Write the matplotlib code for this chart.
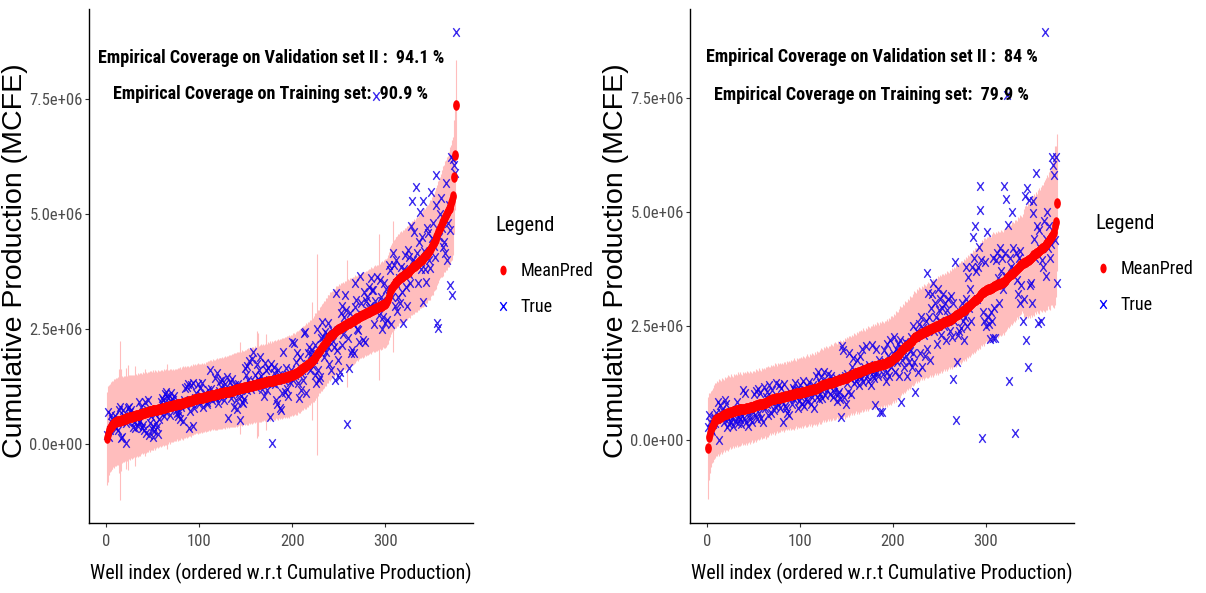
import os
import numpy as np
import matplotlib
matplotlib.use("Agg")
import matplotlib.pyplot as plt
from matplotlib.path import Path
from matplotlib.lines import Line2D
from matplotlib import font_manager as fm

UNIT = 1e4  # all series below are in units of 10,000 MCFE

# ---------------- left panel ----------------
L_MEAN = [
    12, 22, 30, 35, 38, 40, 42, 44, 45, 47,
    48, 49, 50, 50, 51, 52, 53, 53, 54, 55,
    55, 56, 56, 57, 58, 58, 59, 59, 60, 61,
    61, 62, 62, 63, 64, 64, 65, 66, 66, 67,
    68, 68, 69, 69, 70, 71, 71, 72, 72, 73,
    73, 74, 74, 75, 75, 76, 76, 77, 77, 78,
    78, 79, 79, 80, 80, 81, 81, 82, 82, 83,
    83, 84, 84, 85, 85, 86, 86, 87, 87, 88,
    88, 89, 89, 90, 91, 91, 92, 93, 93, 94,
    94, 95, 95, 96, 97, 97, 98, 98, 99, 99,
    100, 100, 101, 101, 102, 102, 103, 103, 104, 104,
    105, 105, 106, 106, 107, 107, 107, 108, 108, 109,
    109, 110, 110, 110, 111, 111, 112, 112, 113, 113,
    114, 114, 115, 115, 116, 116, 117, 118, 118, 119,
    119, 120, 120, 121, 121, 122, 122, 123, 123, 124,
    124, 125, 125, 126, 126, 127, 127, 128, 128, 129,
    129, 130, 130, 131, 131, 132, 132, 133, 133, 134,
    134, 135, 135, 136, 136, 137, 137, 138, 138, 139,
    139, 140, 140, 141, 141, 142, 142, 143, 143, 144,
    144, 145, 145, 146, 146, 147, 147, 148, 149, 150,
    151, 152, 153, 154, 155, 157, 158, 159, 161, 162,
    164, 165, 167, 168, 170, 171, 173, 175, 177, 179,
    181, 183, 185, 187, 190, 192, 195, 198, 201, 204,
    207, 210, 213, 216, 219, 222, 225, 228, 230, 232,
    234, 236, 238, 240, 242, 244, 246, 248, 250, 251,
    252, 253, 254, 255, 256, 257, 258, 259, 261, 262,
    263, 264, 266, 267, 268, 269, 270, 272, 273, 274,
    275, 276, 278, 279, 280, 281, 282, 283, 284, 285,
    286, 287, 288, 289, 290, 291, 292, 293, 294, 295,
    296, 297, 298, 299, 300, 301, 302, 303, 304, 305,
    307, 310, 315, 322, 330, 336, 340, 343, 346, 349,
    351, 353, 355, 357, 359, 361, 362, 364, 365, 367,
    369, 370, 372, 373, 375, 377, 378, 380, 382, 384,
    386, 388, 390, 392, 393, 395, 397, 399, 401, 403,
    405, 407, 409, 411, 413, 416, 419, 422, 426, 430,
    434, 438, 442, 446, 450, 455, 460, 465, 470, 475,
    480, 485, 490, 494, 498, 502, 506, 510, 514, 518,
    523, 530, 540, 581, 628, 737,
]
L_TRUE = [
    20, 70, 16, 30, 63, 45, 55, 52, 40, 60,
    35, 50, 30, 74, 81, 12, 16, 74, 60, 55,
    45, 2, 50, 78, 81, 70, 74, 59, 38, 48,
    34, 62, 55, 40, 48, 92, 50, 81, 35, 42,
    30, 92, 25, 74, 96, 20, 46, 60, 33, 15,
    40, 28, 65, 45, 38, 22, 55, 70, 91, 100,
    95, 60, 108, 113, 70, 105, 100, 90, 62, 110,
    98, 95, 104, 90, 75, 67, 60, 70, 88, 55,
    80, 90, 50, 95, 122, 85, 125, 130, 35, 72,
    128, 90, 40, 133, 78, 99, 110, 95, 130, 88,
    122, 105, 133, 80, 95, 110, 100, 92, 88, 118,
    100, 161, 120, 95, 110, 105, 143, 100, 154, 90,
    115, 138, 102, 125, 140, 108, 96, 130, 118, 145,
    56, 110, 135, 100, 142, 125, 80, 115, 128, 96,
    76, 130, 110, 52, 104, 92, 89, 98, 165, 150,
    170, 118, 140, 180, 130, 120, 185, 200, 135, 150,
    125, 175, 142, 160, 190, 130, 148, 120, 138, 104,
    176, 160, 117, 165, 140, 59, 175, 2, 132, 155,
    168, 130, 96, 88, 161, 150, 78, 74, 110, 201,
    140, 112, 165, 120, 150, 105, 146, 135, 160, 222,
    139, 219, 150, 179, 197, 132, 100, 190, 117, 155,
    160, 139, 241, 244, 110, 175, 197, 211, 160, 195,
    205, 170, 185, 150, 215, 132, 250, 161, 140, 146,
    230, 265, 233, 190, 244, 200, 240, 210, 262, 175,
    233, 161, 248, 225, 211, 139, 328, 204, 183, 146,
    157, 284, 215, 300, 240, 277, 324, 291, 43, 230,
    165, 284, 197, 204, 262, 197, 298, 350, 313, 250,
    248, 222, 365, 306, 280, 226, 330, 222, 310, 320,
    290, 295, 342, 300, 360, 335, 335, 260, 310, 757,
    364, 298, 280, 357, 320, 250, 310, 277, 349, 262,
    338, 270, 324, 389, 378, 260, 320, 415, 389, 300,
    350, 400, 290, 320, 360, 306, 385, 330, 262, 380,
    410, 342, 300, 422, 370, 407, 350, 474, 529, 400,
    462, 395, 559, 415, 349, 440, 505, 380, 450, 309,
    529, 420, 380, 353, 470, 458, 400, 382, 548, 447,
    480, 430, 407, 585, 520, 262, 252, 450, 500, 534,
    470, 429, 440, 415, 567, 400, 480, 520, 346, 465,
    625, 324, 620, 607, 590, 896,
]
L_HALF = [
    101, 104, 98, 96, 97, 95, 96, 94, 97, 95,
    96, 94, 95, 112, 172, 110, 95, 93, 94, 92,
    93, 110, 92, 114, 91, 93, 90, 92, 91, 89,
    108, 90, 88, 91, 89, 87, 90, 88, 86, 89,
    87, 95, 88, 86, 87, 85, 88, 86, 84, 87,
    85, 83, 86, 84, 82, 85, 83, 81, 84, 82,
    80, 83, 81, 79, 82, 92, 80, 78, 81, 79,
    78, 80, 77, 79, 78, 76, 80, 78, 77, 79,
    76, 78, 80, 77, 79, 76, 78, 77, 75, 76,
    78, 75, 74, 77, 75, 76, 74, 75, 77, 74,
    75, 74, 76, 74, 75, 73, 76, 74, 75, 76,
    75, 77, 76, 74, 77, 75, 76, 77, 78, 76,
    77, 76, 78, 77, 79, 76, 78, 79, 77, 79,
    78, 80, 79, 78, 80, 79, 81, 78, 80, 79,
    81, 80, 79, 100, 80, 82, 81, 79, 82, 80,
    82, 81, 83, 80, 82, 81, 83, 82, 80, 83,
    82, 116, 112, 83, 84, 82, 85, 83, 84, 82,
    84, 105, 83, 85, 84, 86, 83, 85, 84, 86,
    85, 87, 84, 86, 88, 85, 87, 86, 88, 87,
    86, 88, 87, 89, 86, 88, 90, 87, 89, 88,
    90, 89, 87, 90, 91, 88, 90, 92, 89, 91,
    90, 92, 89, 91, 93, 90, 92, 91, 93, 90,
    128, 92, 93, 91, 94, 92, 218, 93, 91, 94,
    92, 95, 93, 94, 92, 95, 93, 96, 94, 93,
    96, 94, 95, 93, 96, 94, 97, 95, 93, 96,
    94, 97, 95, 93, 96, 94, 97, 95, 138, 96,
    94, 97, 95, 93, 96, 94, 92, 95, 93, 91,
    94, 92, 90, 93, 91, 94, 92, 90, 93, 91,
    92, 90, 93, 91, 94, 92, 90, 93, 95, 92,
    94, 92, 158, 93, 95, 94, 96, 93, 95, 97,
    96, 94, 97, 95, 98, 96, 97, 142, 98, 96,
    99, 97, 98, 100, 97, 99, 101, 98, 100, 99,
    101, 99, 102, 100, 98, 101, 103, 100, 102, 101,
    103, 100, 102, 104, 101, 103, 102, 104, 103, 105,
    104, 106, 103, 105, 107, 104, 106, 108, 105, 107,
    109, 106, 108, 110, 107, 109, 111, 108, 110, 112,
    116, 119, 117, 121, 119, 123, 121, 125, 123, 127,
    126, 130, 128, 124, 120, 98,
]

# ---------------- right panel ----------------
R_MEAN = [
    -18, 7, 16, 24, 29, 33, 37, 40, 43, 45,
    47, 48, 49, 50, 51, 53, 54, 55, 56, 57,
    58, 59, 59, 60, 61, 62, 62, 63, 64, 64,
    65, 65, 66, 66, 67, 67, 67, 68, 68, 69,
    69, 70, 70, 71, 71, 72, 72, 73, 73, 74,
    74, 75, 76, 76, 77, 78, 78, 79, 80, 80,
    81, 82, 82, 83, 84, 85, 86, 87, 88, 89,
    89, 90, 90, 91, 91, 92, 92, 93, 93, 94,
    94, 95, 95, 96, 96, 97, 97, 98, 98, 99,
    99, 100, 100, 101, 101, 102, 102, 103, 103, 104,
    104, 105, 105, 106, 106, 107, 107, 108, 108, 109,
    109, 110, 110, 111, 111, 112, 112, 113, 114, 116,
    117, 118, 119, 120, 121, 121, 122, 123, 123, 124,
    124, 125, 126, 126, 127, 128, 128, 129, 130, 130,
    131, 131, 132, 133, 133, 134, 135, 135, 136, 137,
    138, 139, 140, 141, 142, 143, 144, 145, 146, 147,
    147, 148, 149, 150, 150, 151, 152, 153, 153, 154,
    155, 156, 157, 158, 158, 159, 160, 161, 161, 162,
    162, 163, 163, 164, 164, 165, 165, 166, 166, 167,
    167, 168, 169, 170, 171, 172, 173, 174, 176, 177,
    179, 181, 183, 185, 187, 189, 191, 193, 195, 197,
    199, 201, 203, 205, 207, 209, 211, 213, 215, 217,
    219, 221, 223, 225, 226, 228, 229, 231, 232, 233,
    234, 235, 236, 237, 238, 239, 240, 241, 242, 243,
    244, 245, 246, 247, 248, 249, 250, 251, 252, 253,
    254, 255, 256, 257, 258, 259, 260, 261, 262, 263,
    264, 265, 266, 267, 268, 270, 271, 273, 274, 276,
    277, 279, 280, 282, 283, 285, 286, 288, 289, 291,
    292, 294, 296, 298, 300, 302, 304, 306, 308, 310,
    312, 314, 316, 318, 320, 322, 324, 325, 327, 328,
    329, 330, 331, 332, 333, 334, 335, 336, 337, 338,
    339, 340, 341, 342, 343, 344, 345, 346, 347, 349,
    351, 353, 355, 357, 359, 361, 363, 365, 367, 369,
    371, 373, 375, 377, 379, 381, 383, 384, 386, 387,
    388, 390, 391, 392, 394, 395, 397, 399, 401, 403,
    405, 406, 408, 410, 411, 413, 414, 416, 418, 420,
    422, 424, 426, 428, 430, 432, 435, 438, 441, 444,
    448, 452, 457, 470, 479, 520,
]
R_TRUE = [
    29, 55, 40, 25, 20, 35, 45, 50, 38, 60,
    45, 84, 0, 77, 60, 66, 50, 40, 88, 80,
    52, 29, 45, 35, 60, 40, 48, 30, 55, 42,
    65, 84, 38, 50, 45, 60, 35, 52, 110, 48,
    102, 40, 65, 30, 55, 45, 70, 40, 62, 75,
    100, 55, 108, 45, 112, 60, 104, 48, 75, 40,
    116, 70, 95, 105, 80, 55, 120, 85, 60, 110,
    90, 65, 75, 124, 88, 80, 120, 70, 90, 115,
    85, 40, 122, 75, 70, 60, 95, 55, 105, 100,
    80, 115, 110, 90, 125, 95, 110, 70, 85, 120,
    95, 80, 130, 75, 110, 90, 118, 85, 100, 128,
    105, 78, 95, 120, 70, 112, 140, 95, 150, 90,
    100, 125, 138, 92, 115, 150, 98, 130, 110, 145,
    120, 100, 140, 125, 95, 130, 105, 115, 135, 85,
    100, 105, 90, 51, 205, 197, 95, 140, 80, 125,
    145, 105, 190, 135, 100, 160, 180, 125, 140, 130,
    175, 150, 120, 185, 140, 135, 200, 128, 160, 145,
    205, 140, 130, 165, 155, 120, 208, 150, 140, 135,
    77, 200, 150, 140, 175, 62, 160, 62, 145, 197,
    170, 130, 210, 150, 185, 140, 220, 160, 175, 190,
    226, 150, 200, 170, 210, 140, 190, 220, 84, 175,
    200, 160, 215, 185, 140, 210, 170, 195, 225, 160,
    190, 250, 170, 106, 226, 240, 150, 255, 190, 270,
    160, 245, 230, 185, 260, 366, 200, 322, 270, 175,
    290, 320, 344, 240, 300, 270, 210, 330, 285, 260,
    310, 230, 290, 320, 250, 300, 220, 285, 310, 270,
    240, 315, 225, 133, 300, 260, 391, 44, 172, 230,
    240, 280, 245, 300, 260, 220, 270, 310, 380, 250,
    358, 290, 330, 260, 380, 446, 400, 469, 370, 310,
    380, 424, 557, 504, 395, 4, 280, 260, 390, 250,
    457, 270, 255, 221, 280, 260, 400, 223, 290, 223,
    395, 410, 355, 300, 420, 370, 400, 330, 557, 410,
    360, 528, 757, 471, 130, 400, 380, 500, 420, 375,
    15, 410, 350, 320, 400, 300, 415, 340, 390, 262,
    310, 534, 219, 552, 159, 526, 340, 344, 300, 523,
    497, 440, 400, 585, 470, 256, 460, 420, 262, 395,
    380, 480, 894, 360, 440, 500, 420, 470, 400, 430,
    621, 603, 581, 439, 621, 344,
]
R_HALF = [
    112, 95, 88, 84, 80, 82, 79, 81, 83, 80,
    82, 79, 84, 81, 78, 83, 80, 77, 82, 79,
    81, 78, 83, 80, 77, 82, 79, 76, 81, 78,
    80, 77, 82, 79, 76, 81, 78, 75, 80, 77,
    79, 76, 81, 78, 75, 80, 77, 74, 79, 76,
    78, 75, 80, 77, 74, 79, 76, 73, 78, 75,
    77, 74, 79, 76, 73, 78, 75, 72, 77, 74,
    76, 73, 78, 75, 72, 77, 74, 71, 76, 73,
    75, 72, 77, 74, 71, 76, 73, 75, 72, 77,
    74, 76, 73, 78, 75, 72, 77, 74, 76, 75,
    77, 74, 79, 76, 73, 78, 75, 80, 77, 74,
    79, 76, 81, 78, 75, 80, 77, 82, 79, 76,
    81, 78, 83, 80, 77, 82, 79, 84, 81, 78,
    83, 80, 85, 82, 79, 84, 81, 86, 83, 80,
    85, 82, 87, 84, 81, 86, 83, 88, 85, 82,
    87, 84, 89, 86, 83, 88, 85, 90, 87, 84,
    89, 86, 91, 88, 85, 90, 87, 92, 89, 86,
    91, 88, 93, 90, 87, 92, 89, 94, 91, 88,
    93, 90, 95, 92, 89, 94, 91, 96, 93, 90,
    95, 92, 97, 94, 91, 96, 93, 98, 95, 92,
    97, 94, 99, 96, 93, 98, 95, 100, 97, 94,
    99, 96, 101, 98, 95, 100, 97, 102, 99, 96,
    101, 98, 103, 100, 97, 102, 99, 104, 101, 98,
    103, 100, 105, 102, 99, 104, 101, 106, 103, 100,
    105, 102, 107, 104, 101, 106, 103, 108, 105, 102,
    107, 104, 109, 106, 103, 108, 105, 110, 107, 104,
    109, 106, 111, 108, 105, 110, 107, 112, 109, 106,
    111, 108, 113, 110, 107, 112, 109, 114, 111, 108,
    113, 110, 115, 112, 109, 114, 111, 116, 113, 110,
    115, 112, 117, 114, 111, 116, 113, 118, 115, 112,
    117, 114, 119, 116, 113, 118, 115, 120, 117, 114,
    116, 113, 118, 115, 112, 117, 114, 111, 116, 113,
    110, 115, 112, 109, 114, 111, 108, 113, 110, 107,
    112, 109, 106, 111, 108, 105, 110, 107, 104, 109,
    118, 122, 125, 120, 127, 123, 129, 125, 131, 127,
    130, 134, 128, 133, 129, 135, 138, 132, 136, 140,
    137, 141, 145, 139, 144, 148, 142, 150, 155, 147,
    152, 160, 168, 175, 165, 150,
]

# ---------------- text ----------------
X_TICKS = [0, 100, 200, 300]
Y_TICKS = [0.0, 2.5e6, 5.0e6, 7.5e6]
Y_TICK_LABELS = ["0.0e+00", "2.5e+06", "5.0e+06", "7.5e+06"]
LEGEND_TITLE = "Legend"
LEGEND_LABELS = ["MeanPred", "True"]
COVERAGE_LEFT = ["Empirical Coverage on Validation set II :  94.1 %",
                 "Empirical Coverage on Training set:  90.9 %"]
COVERAGE_RIGHT = ["Empirical Coverage on Validation set II :  84 %",
                  "Empirical Coverage on Training set:  79.9 %"]
X_LABEL = "Well index (ordered w.r.t Cumulative Production)"
Y_LABEL = "Cumulative Production (MCFE)"

# ---------------- fonts: pick a condensed face if one is installed ----------------
_files = {}
for _f in fm.fontManager.ttflist:
    _files.setdefault(os.path.basename(_f.fname), _f.fname)

_CANDIDATES = [
    ("NotoSans-ExtraCondensed.ttf", "NotoSans-ExtraCondensedBold.ttf", 0.70),
    ("LiberationSansNarrow-Regular.ttf", "LiberationSansNarrow-Bold.ttf", 0.82),
    ("NotoSans-Condensed.ttf", "NotoSans-CondensedBold.ttf", 0.80),
    ("RobotoCondensed-Regular.ttf", "RobotoCondensed-Bold.ttf", 0.86),
    ("DejaVuSansCondensed.ttf", "DejaVuSansCondensed-Bold.ttf", 0.97),
]
REG_FILE = BOLD_FILE = None
WF = 1.0
for _r, _b, _w in _CANDIDATES:
    if _r in _files and _b in _files:
        REG_FILE, BOLD_FILE, WF = _files[_r], _files[_b], _w
        break


def fprop(size, bold=False):
    if REG_FILE is not None:
        return fm.FontProperties(fname=BOLD_FILE if bold else REG_FILE, size=size)
    return fm.FontProperties(family=["Liberation Sans", "DejaVu Sans"],
                             weight="bold" if bold else "normal", size=size)


def fit(h_size, w_size):
    return min(h_size, w_size / WF)


S_TICK = fit(15.5, 10.3)
S_NOTE = fit(16.0, 11.2)
S_XLAB = fit(18.5, 12.4)
S_LTITLE = fit(18.0, 12.7)
S_LLAB = fit(15.8, 11.2)

# markers (the reference is horizontally squeezed, so marks are narrow)
_c = Path.unit_circle()
DOT = Path(_c.vertices * np.array([0.64, 1.0]), _c.codes)
XM = Path([(-0.75, -1.0), (0.75, 1.0), (-0.75, 1.0), (0.75, -1.0)],
          [Path.MOVETO, Path.LINETO, Path.MOVETO, Path.LINETO])

BAND = "#ffbdbd"
W, H = 1206, 593
fig = plt.figure(figsize=(W / 100, H / 100), dpi=100)


def px_axes(l, t, r, b):
    return fig.add_axes([l / W, 1 - b / H, (r - l) / W, (b - t) / H])


def panel(ax, mean, true, half, xlim, ylim, texts, text_y, leg_xy, ylab_x):
    n = min(len(mean), len(true), len(half))
    idx = np.arange(1, n + 1)
    m = np.asarray(mean[:n], float) * UNIT
    t = np.asarray(true[:n], float) * UNIT
    h = np.asarray(half[:n], float) * UNIT
    ax.vlines(idx, m - h, m + h, colors=BAND, linewidth=0.8, zorder=1)
    ax.plot(idx, t, ls="none", marker=XM, ms=6.2, mew=1.0,
            mec=(0.08, 0.0, 0.92, 0.85), mfc="none", zorder=2)
    ax.plot(idx, m, ls="none", marker=DOT, ms=7.6, mew=0,
            mfc="red", mec="red", zorder=3)

    ax.set_xlim(*xlim)
    ax.set_ylim(*ylim)
    ax.set_xticks(X_TICKS)
    ax.set_xticklabels([str(v) for v in X_TICKS])
    ax.set_yticks(Y_TICKS)
    ax.set_yticklabels(Y_TICK_LABELS)
    for s in ("top", "right"):
        ax.spines[s].set_visible(False)
    for s in ("left", "bottom"):
        ax.spines[s].set_linewidth(1.0)
        ax.spines[s].set_color("black")
    ax.tick_params(axis="both", length=3, width=0.8, color="#333333",
                   labelcolor="#4d4d4d")
    ax.tick_params(axis="x", pad=5.0)
    ax.tick_params(axis="y", pad=1.5)
    for lab in ax.get_xticklabels() + ax.get_yticklabels():
        lab.set_fontproperties(fprop(S_TICK))

    for txt, yv in zip(texts, text_y):
        ax.text(177, yv, txt, ha="center", va="center",
                fontproperties=fprop(S_NOTE, bold=True), color="black", zorder=4)

    ax.set_xlabel(X_LABEL, fontproperties=fprop(S_XLAB), color="black")
    ax.xaxis.set_label_coords(0.5, -0.099)
    ax.xaxis.label.set_va("center")
    ax.set_ylabel(Y_LABEL, fontsize=20.5, family=["Liberation Sans", "DejaVu Sans"],
                  color="black")
    ax.yaxis.set_label_coords(ylab_x, 0.51)
    ax.yaxis.label.set_va("center")

    handles = [
        Line2D([], [], ls="none", marker=DOT, ms=7.0, mew=0, mfc="red", mec="red"),
        Line2D([], [], ls="none", marker=XM, ms=6.2, mew=1.0, mec="blue", mfc="none"),
    ]
    leg = ax.legend(handles, LEGEND_LABELS, title=LEGEND_TITLE, loc="upper left",
                    bbox_to_anchor=(leg_xy[0] / W, 1 - leg_xy[1] / H),
                    bbox_transform=fig.transFigure, frameon=False,
                    borderpad=0, borderaxespad=0, handlelength=0.85,
                    handletextpad=0.55, labelspacing=1.0, alignment="left",
                    prop=fprop(S_LLAB), title_fontproperties=fprop(S_LTITLE))
    leg._legend_box.sep = 19.5
    return ax


ax1 = px_axes(89, 9, 473, 523)
panel(ax1, L_MEAN, L_TRUE, L_HALF, (-18.2, 394.2), (-1.717e6, 9.457e6),
      COVERAGE_LEFT, (8.40e6, 7.60e6), (495, 216), -0.192)

ax2 = px_axes(690, 9, 1074, 523)
panel(ax2, R_MEAN, R_TRUE, R_HALF, (-18.3, 394.6), (-1.82e6, 9.45e6),
      COVERAGE_RIGHT, (8.40e6, 7.57e6), (1095, 214), -0.194)

fig.savefig("out.png", dpi=100)
